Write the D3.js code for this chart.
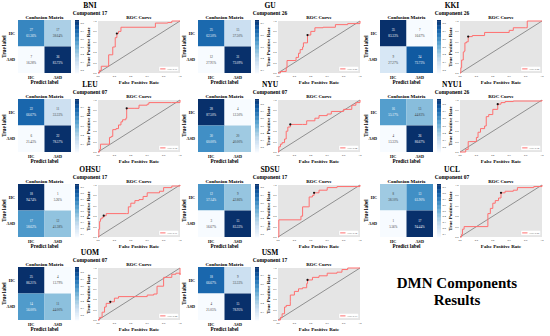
<!DOCTYPE html>
<html>
<head>
<meta charset="utf-8">
<script src="https://cdn.jsdelivr.net/npm/d3@7"></script>
<style>
  body { margin: 0; background: #fff; }
  svg text { font-family: "Liberation Serif", "Times New Roman", serif; }
</style>
</head>
<body>
<div id="chart"></div>
<script>
// site names and the ICA component picked for each
const sites = ["BNI", "GU", "KKI", "LEU", "NYU", "NYU1", "OHSU", "SDSU", "UCL", "UOM", "USM"];
const components = ["17", "26", "26", "07", "07", "26", "17", "17", "07", "07", "17"];
const classLabels = ["HC", "ASD"];

// confusion matrix counts [TN, FP, FN, TP]
const cmCounts = [
  [27, 17, 7, 36], [25, 15, 12, 31], [35, 7, 9, 24], [22, 11, 6, 22],
  [28, 4, 30, 20], [16, 13, 4, 26], [18, 1, 17, 12], [12, 9, 3, 15],
  [8, 13, 1, 17], [25, 4, 14, 11], [18, 9, 4, 15]
];
// row normalised rates, percent
const cmRates = [
  [61.36, 38.64, 16.28, 83.72], [62.50, 37.50, 27.91, 72.09], [83.33, 16.67, 27.27, 72.73],
  [66.67, 33.33, 21.43, 78.57], [87.50, 12.50, 60.00, 40.00], [55.17, 44.83, 13.33, 86.67],
  [94.74, 5.26, 58.62, 41.38], [57.14, 42.86, 16.67, 83.33], [38.10, 61.90, 5.56, 94.44],
  [86.21, 13.79, 56.00, 44.00], [66.67, 33.33, 21.05, 78.95]
];
const aucs = [0.71, 0.69, 0.80, 0.75, 0.64, 0.72, 0.71, 0.72, 0.69, 0.58, 0.73];

// ROC curves
const rocFpr = [
  [0, 0.02, 0.04, 0.12, 0.13, 0.17, 0.18, 0.2, 0.21, 0.23, 0.25, 0.28, 0.33, 0.67, 0.7, 0.85, 0.9, 1],
  [0, 0.03, 0.1, 0.11, 0.21, 0.22, 0.25, 0.27, 0.3, 0.31, 0.36, 0.4, 0.45, 0.55, 0.7, 0.85, 1],
  [0, 0.01, 0.02, 0.04, 0.05, 0.06, 0.08, 0.1, 0.15, 0.3, 0.6, 0.65, 0.8, 0.82, 1],
  [0, 0.02, 0.03, 0.12, 0.14, 0.16, 0.18, 0.22, 0.25, 0.28, 0.3, 0.34, 0.35, 0.45, 0.5, 0.6, 0.62, 0.9, 1],
  [0, 0.01, 0.03, 0.05, 0.08, 0.1, 0.12, 0.15, 0.3, 0.35, 0.45, 0.5, 0.6, 0.65, 0.8, 0.9, 0.95, 1],
  [0, 0.07, 0.1, 0.12, 0.2, 0.22, 0.25, 0.3, 0.32, 0.35, 0.4, 0.46, 0.5, 0.55, 0.65, 1],
  [0, 0.01, 0.02, 0.03, 0.05, 0.07, 0.1, 0.35, 0.37, 0.4, 0.45, 0.5, 0.55, 0.6, 0.75, 0.8, 0.9, 1],
  [0, 0.01, 0.27, 0.28, 0.3, 0.3, 0.37, 0.38, 0.42, 0.44, 0.5, 0.6, 0.72, 1],
  [0, 0.02, 0.03, 0.05, 0.33, 0.34, 0.37, 0.4, 0.43, 0.47, 0.5, 0.55, 0.65, 0.7, 0.9, 1],
  [0, 0.02, 0.05, 0.08, 0.1, 0.15, 0.2, 0.25, 0.45, 0.6, 0.68, 0.72, 0.8, 0.9, 0.95, 1, 1],
  [0, 0.03, 0.05, 0.08, 0.1, 0.15, 0.15, 0.2, 0.2, 0.25, 0.3, 0.35, 0.36, 0.42, 0.5, 0.6, 0.72, 0.78, 0.85, 1]
];
const rocTpr = [
  [0, 0.05, 0.13, 0.13, 0.35, 0.35, 0.5, 0.5, 0.68, 0.76, 0.8, 0.88, 0.88, 0.88, 0.96, 0.97, 1, 1],
  [0, 0.03, 0.1, 0.24, 0.24, 0.3, 0.38, 0.45, 0.5, 0.58, 0.73, 0.8, 0.87, 0.88, 0.93, 0.95, 1],
  [0, 0.1, 0.25, 0.4, 0.42, 0.58, 0.6, 0.7, 0.72, 0.78, 0.82, 0.87, 0.87, 1, 1],
  [0, 0.05, 0.15, 0.15, 0.28, 0.3, 0.43, 0.45, 0.52, 0.58, 0.62, 0.65, 0.84, 0.84, 0.9, 0.92, 0.95, 0.95, 1],
  [0, 0.1, 0.15, 0.18, 0.25, 0.4, 0.48, 0.53, 0.53, 0.6, 0.65, 0.7, 0.73, 0.78, 0.82, 0.9, 0.95, 1],
  [0, 0.05, 0.2, 0.2, 0.28, 0.38, 0.45, 0.5, 0.68, 0.72, 0.82, 0.92, 0.95, 0.97, 0.98, 1],
  [0, 0.15, 0.3, 0.35, 0.38, 0.41, 0.45, 0.45, 0.58, 0.65, 0.7, 0.72, 0.78, 0.85, 0.88, 0.95, 0.98, 1],
  [0, 0.33, 0.33, 0.4, 0.4, 0.58, 0.58, 0.77, 0.8, 0.85, 0.9, 0.95, 0.97, 1],
  [0, 0.05, 0.15, 0.2, 0.2, 0.45, 0.55, 0.65, 0.7, 0.75, 0.85, 0.88, 0.9, 0.95, 0.97, 1],
  [0, 0.05, 0.15, 0.25, 0.32, 0.35, 0.42, 0.45, 0.45, 0.48, 0.5, 0.65, 0.82, 0.88, 0.9, 0.87, 1],
  [0, 0.05, 0.12, 0.25, 0.28, 0.35, 0.48, 0.48, 0.55, 0.6, 0.62, 0.7, 0.77, 0.82, 0.85, 0.9, 0.92, 0.97, 1, 1]
];
// optimal threshold point [fpr, tpr]
const bestPoints = [
  [0.23, 0.76], [0.36, 0.73], [0.1, 0.7], [0.35, 0.84], [0.15, 0.53], [0.46, 0.92],
  [0.07, 0.41], [0.44, 0.85], [0.5, 0.85], [0.15, 0.35], [0.36, 0.77]
];
const rocTicks = [0, 0.2, 0.4, 0.6, 0.8, 1.0];

const W = 550, H = 336;
const colX = [0, 180, 362];
const rowY = [0, 79, 164, 247];

const svg = d3.select("#chart").append("svg")
  .attr("width", W)
  .attr("height", H);

// local layout of one panel
const cm = { x0: 18, x1: 71, y0: 20, y1: 73 };
const cb = { x0: 75, x1: 79 };
const roc = { x0: 98, x1: 180, y0: 21, y1: 73 };

sites.forEach(function (site, i) {
  const g = svg.append("g")
    .attr("transform", "translate(" + colX[i % 3] + "," + rowY[Math.floor(i / 3)] + ")");

  g.append("text").attr("x", 90).attr("y", 8)
    .attr("text-anchor", "middle").attr("font-size", 7.5).attr("font-weight", "bold")
    .text(site);
  g.append("text").attr("x", 90).attr("y", 14.5)
    .attr("text-anchor", "middle").attr("font-size", 5.5).attr("font-weight", "bold")
    .text("Component " + components[i]);

  // ---- confusion matrix
  const rates = cmRates[i].map(function (v) { return v / 100; });
  const lo = d3.min(rates), hi = d3.max(rates);
  const color = d3.scaleSequential(d3.interpolateBlues).domain([lo, hi]);
  const bx = d3.scaleBand().domain([0, 1]).range([cm.x0, cm.x1]);
  const by = d3.scaleBand().domain([0, 1]).range([cm.y0, cm.y1]);

  g.append("text").attr("x", (cm.x0 + cm.x1) / 2).attr("y", 18.5)
    .attr("text-anchor", "middle").attr("font-size", 5).attr("font-weight", "bold")
    .text("Confusion Matrix");

  const cells = d3.range(4).map(function (k) {
    return { r: Math.floor(k / 2), c: k % 2, n: cmCounts[i][k], p: rates[k], pct: cmRates[i][k] };
  });
  g.selectAll("rect.cell").data(cells).enter().append("rect")
    .attr("x", function (d) { return bx(d.c); })
    .attr("y", function (d) { return by(d.r); })
    .attr("width", bx.bandwidth())
    .attr("height", by.bandwidth())
    .attr("fill", function (d) { return color(d.p); });

  const txt = g.selectAll("g.lab").data(cells).enter().append("g")
    .attr("fill", function (d) { return (d.p - lo) / (hi - lo) > 0.5 ? "#fff" : "#3a3a3a"; })
    .attr("font-size", 3.2)
    .attr("text-anchor", "middle");
  txt.append("text")
    .attr("x", function (d) { return bx(d.c) + bx.bandwidth() / 2; })
    .attr("y", function (d) { return by(d.r) + by.bandwidth() / 2 - 2; })
    .text(function (d) { return d.n; });
  txt.append("text")
    .attr("x", function (d) { return bx(d.c) + bx.bandwidth() / 2; })
    .attr("y", function (d) { return by(d.r) + by.bandwidth() / 2 + 4; })
    .text(function (d) { return d.pct.toFixed(2) + "%"; });

  classLabels.forEach(function (lab, k) {
    g.append("text").attr("x", cm.x0 - 3).attr("y", by(k) + by.bandwidth() / 2 + 1.5)
      .attr("text-anchor", "end").attr("font-size", 4.2).attr("font-weight", "bold").text(lab);
    g.append("text").attr("x", bx(k) + bx.bandwidth() / 2).attr("y", cm.y1 + 5.5)
      .attr("text-anchor", "middle").attr("font-size", 4.2).attr("font-weight", "bold").text(lab);
  });
  g.append("text").attr("x", (cm.x0 + cm.x1) / 2).attr("y", 83.5)
    .attr("text-anchor", "middle").attr("font-size", 5.2).attr("font-weight", "bold")
    .text("Predict label");
  g.append("text")
    .attr("transform", "translate(6," + (cm.y0 + cm.y1) / 2 + ") rotate(-90)")
    .attr("text-anchor", "middle").attr("font-size", 5.2).attr("font-weight", "bold")
    .text("True label");

  // colorbar
  const cy = d3.scaleLinear().domain([lo, hi]).range([cm.y1, cm.y0]);
  const steps = d3.range(0, 40);
  g.selectAll("rect.cb").data(steps).enter().append("rect")
    .attr("x", cb.x0)
    .attr("y", function (s) { return cy(lo + (hi - lo) * (s + 1) / 40); })
    .attr("width", cb.x1 - cb.x0)
    .attr("height", (cm.y1 - cm.y0) / 40 + 0.3)
    .attr("fill", function (s) { return color(lo + (hi - lo) * (s + 0.5) / 40); });
  g.selectAll("text.cbt").data(d3.range(Math.ceil(lo * 10), Math.floor(hi * 10) + 1)).enter()
    .append("text")
    .attr("x", cb.x1 + 1.5)
    .attr("y", function (t) { return cy(t / 10) + 1; })
    .attr("font-size", 2.8).attr("fill", "#333")
    .text(function (t) { return (t / 10).toFixed(1); });

  // ---- ROC curve
  const x = d3.scaleLinear().domain([0, 1]).range([roc.x0, roc.x1]);
  const y = d3.scaleLinear().domain([0, 1]).range([roc.y1, roc.y0]);

  g.append("text").attr("x", (roc.x0 + roc.x1) / 2).attr("y", 18.5)
    .attr("text-anchor", "middle").attr("font-size", 5).attr("font-weight", "bold")
    .text("ROC Curve");
  g.append("rect").attr("x", roc.x0).attr("y", roc.y0)
    .attr("width", roc.x1 - roc.x0).attr("height", roc.y1 - roc.y0)
    .attr("fill", "#e5e5e5");

  g.selectAll("text.xt").data(rocTicks).enter().append("text")
    .attr("x", function (t) { return x(t); }).attr("y", roc.y1 + 4)
    .attr("text-anchor", "middle").attr("font-size", 2.6).attr("fill", "#333")
    .text(function (t) { return t.toFixed(1); });
  g.selectAll("text.yt").data(rocTicks).enter().append("text")
    .attr("x", roc.x0 - 1.5).attr("y", function (t) { return y(t) + 1; })
    .attr("text-anchor", "end").attr("font-size", 2.6).attr("fill", "#333")
    .text(function (t) { return t.toFixed(1); });

  g.append("line")
    .attr("x1", x(0)).attr("y1", y(0)).attr("x2", x(1)).attr("y2", y(1))
    .attr("stroke", "#555").attr("stroke-width", 0.6);

  const pts = rocFpr[i].map(function (f, k) { return [f, rocTpr[i][k]]; });
  const line = d3.line()
    .x(function (d) { return x(d[0]); })
    .y(function (d) { return y(d[1]); })
    .curve(d3.curveStepAfter);
  g.append("path").datum(pts)
    .attr("d", line)
    .attr("fill", "none")
    .attr("stroke", "#ff6f6f")
    .attr("stroke-width", 1);

  g.append("circle")
    .attr("cx", x(bestPoints[i][0])).attr("cy", y(bestPoints[i][1]))
    .attr("r", 1.1).attr("fill", "#111");

  // legend
  const lg = g.append("g").attr("transform", "translate(" + (roc.x1 - 21) + "," + (roc.y1 - 6.5) + ")");
  lg.append("rect").attr("width", 19.5).attr("height", 4.8).attr("fill", "#fff")
    .attr("stroke", "#ddd").attr("stroke-width", 0.3).attr("rx", 0.6);
  lg.append("line").attr("x1", 1.2).attr("x2", 6.5).attr("y1", 2.4).attr("y2", 2.4)
    .attr("stroke", "#ff6f6f").attr("stroke-width", 1);
  lg.append("text").attr("x", 7.8).attr("y", 3.3).attr("font-size", 2.4).attr("fill", "#333")
    .text("AUC: " + aucs[i].toFixed(2));

  g.append("text")
    .attr("transform", "translate(" + (roc.x0 - 8) + "," + (roc.y0 + roc.y1) / 2 + ") rotate(-90)")
    .attr("text-anchor", "middle").attr("font-size", 5).attr("font-weight", "bold")
    .text("True Positive Rate");
  g.append("text").attr("x", (roc.x0 + roc.x1) / 2).attr("y", 83.5)
    .attr("text-anchor", "middle").attr("font-size", 5).attr("font-weight", "bold")
    .text("False Positive Rate");
});

// caption in the empty slot
svg.append("text").attr("x", 457).attr("y", 288)
  .attr("text-anchor", "middle").attr("font-size", 15).attr("font-weight", "bold")
  .text("DMN Components");
svg.append("text").attr("x", 457).attr("y", 305)
  .attr("text-anchor", "middle").attr("font-size", 15).attr("font-weight", "bold")
  .text("Results");
</script>
</body>
</html>
